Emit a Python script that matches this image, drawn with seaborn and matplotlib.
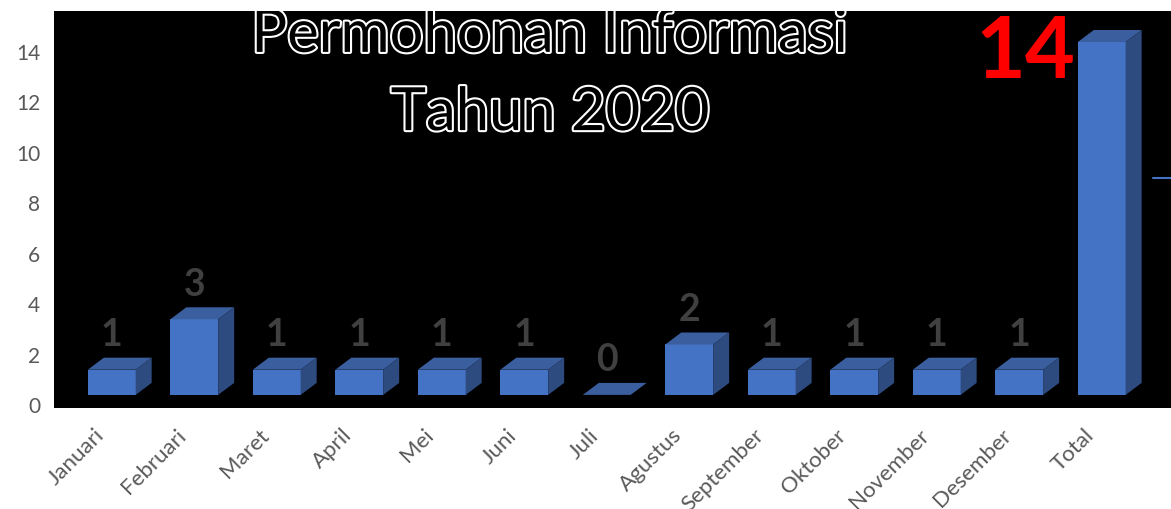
import matplotlib
matplotlib.use("Agg")
import matplotlib.pyplot as plt
import matplotlib.patheffects as pe
from matplotlib.patches import Polygon
from matplotlib.transforms import ScaledTranslation
import seaborn as sns

# data
months = ['Januari', 'Februari', 'Maret', 'April', 'Mei', 'Juni', 'Juli',
          'Agustus', 'September', 'Oktober', 'November', 'Desember', 'Total']
requests = [1, 3, 1, 1, 1, 1, 0, 2, 1, 1, 1, 1, 14]
yticks = [0, 2, 4, 6, 8, 10, 12, 14]
title_lines = ['Permohonan Informasi', 'Tahun 2020']

sns.set_style('white')
plt.rcParams['font.family'] = ['Lato', 'DejaVu Sans']

front = '#4472C4'
top_c = '#3A5E9E'
side_c = '#2E4B80'
base = 0.4      # the 3d floor sits a bit above zero
dx, dy = 0.194, 0.476   # depth of the fake 3d boxes (data units)

fig = plt.figure(figsize=(11.71, 5.09), dpi=100)
fig.patch.set_facecolor('white')
ax = fig.add_axes([54 / 1171, 101 / 509, 1117 / 1171, 397 / 509])
ax.set_facecolor('black')

sns.barplot(x=months, y=requests, ax=ax, color=front, width=0.58,
            saturation=1, edgecolor='none')

for p in list(ax.patches):
    p.set_y(base)
    x0 = p.get_x()
    x1 = x0 + p.get_width()
    yt = base + p.get_height()
    ax.add_patch(Polygon([(x0, yt), (x1, yt), (x1 + dx, yt + dy), (x0 + dx, yt + dy)],
                         closed=True, facecolor=top_c, edgecolor='none'))
    ax.add_patch(Polygon([(x1, base), (x1 + dx, base + dy), (x1 + dx, yt + dy), (x1, yt)],
                         closed=True, facecolor=side_c, edgecolor='none'))

# data labels
for i, v in enumerate(requests[:-1]):
    ax.text(i, base + v + 0.7, str(v), ha='center', va='bottom',
            fontsize=27, fontweight='bold', color='#404040')

# big red total label
ax.annotate(str(requests[-1]), xy=(len(months) - 1, base + requests[-1]),
            xytext=(-55, -8.5), textcoords='offset points',
            ha='center', va='center', fontsize=62, fontweight='bold', color='#FF0000')

# outlined title, clipped by the black area like in the original
for line, yb in zip(title_lines, [0.897, 0.700]):
    ax.text(0.444, yb, line, transform=ax.transAxes, ha='center', va='baseline',
            fontsize=43, color='black', clip_on=True,
            path_effects=[pe.withStroke(linewidth=3, foreground='white')])

# stray legend tick at the right edge
ax.plot([0.984, 1.0], [0.579, 0.579], transform=ax.transAxes,
        color=front, lw=1.5, clip_on=False)

ax.set_xlim(-0.70, 12.84)
ax.set_ylim(-0.12, 15.63)
ax.set_yticks(yticks)
ax.tick_params(axis='y', length=0, pad=10, labelsize=15, labelcolor='#595959')
ax.tick_params(axis='x', length=0, pad=12.5, labelsize=16, labelcolor='#595959')
shift = ScaledTranslation(-18 / 100, 0, fig.dpi_scale_trans)
for lab in ax.get_xticklabels():
    lab.set_rotation(45)
    lab.set_ha('right')
    lab.set_rotation_mode('anchor')
    lab.set_transform(lab.get_transform() + shift)
ax.set_xlabel('')
ax.set_ylabel('')
for s in ax.spines.values():
    s.set_visible(False)

fig.savefig('out.png', dpi=100, facecolor='white')
